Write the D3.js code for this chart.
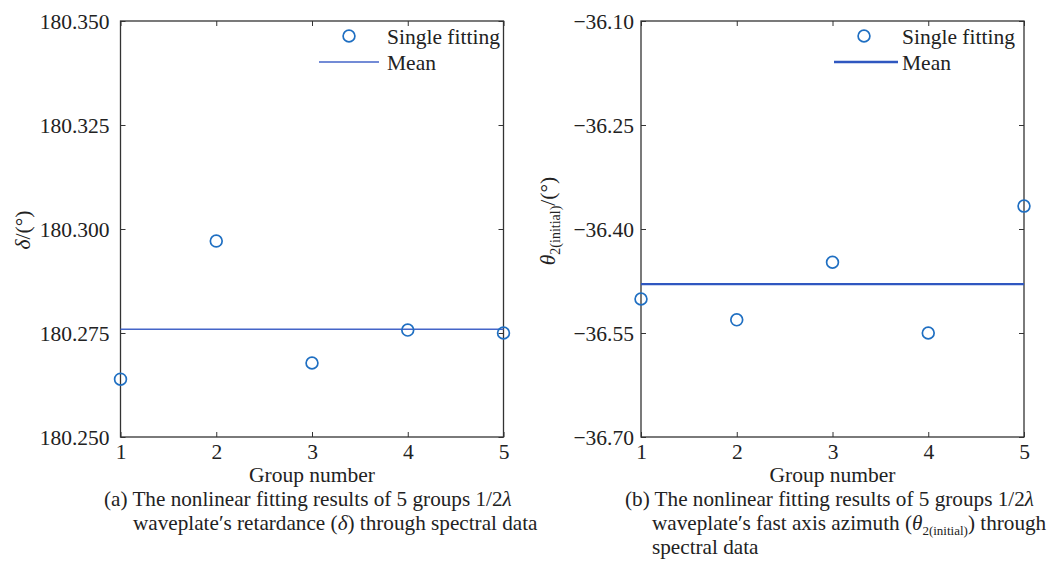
<!DOCTYPE html>
<html>
<head>
<meta charset="utf-8">
<script src="https://cdn.jsdelivr.net/npm/d3@7"></script>
<style>
  body { margin: 0; background: #fff; }
</style>
</head>
<body>
<svg id="chart" width="1054" height="563" font-family="Liberation Serif"></svg>
<script>
// data
var groups = [1, 2, 3, 4, 5]
var retardance = [180.2639, 180.2971, 180.2678, 180.2757, 180.2750]
var azimuth = [-36.501, -36.531, -36.448, -36.550, -36.367]
var retardance_ticks = [180.250, 180.275, 180.300, 180.325, 180.350]
var azimuth_ticks = [-36.70, -36.55, -36.40, -36.25, -36.10]
var legend_labels = ["Single fitting", "Mean"]
var x_label = "Group number"

var svg = d3.select("#chart")
var serif = "Liberation Serif"
var fs = 21.5
var text_color = "#222"
var point_color = "#1f6fc2"
var axis_color = "#333"

function draw_panel(cfg){
    var g = svg.append("g").attr("transform", "translate(" + cfg.left + "," + cfg.top + ")")
    var w = cfg.width, h = cfg.height

    var x = d3.scaleLinear().domain([1, 5]).range([0, w])
    var y = d3.scaleLinear().domain(d3.extent(cfg.ticks)).range([h, 0])

    // bottom + left axes with labels, inward ticks
    var bottom = g.append("g").attr("transform", "translate(0," + h + ")")
        .call(d3.axisBottom(x).tickValues(groups).tickFormat(d3.format("d"))
            .tickSizeInner(-5).tickSizeOuter(0).tickPadding(7))
    var left = g.append("g")
        .call(d3.axisLeft(y).tickValues(cfg.ticks).tickFormat(d3.format(cfg.fmt))
            .tickSizeInner(-5).tickSizeOuter(0).tickPadding(cfg.ypad))
    // top + right, ticks only
    var top = g.append("g")
        .call(d3.axisTop(x).tickValues(groups).tickFormat("").tickSizeInner(-5).tickSizeOuter(0))
    var right = g.append("g").attr("transform", "translate(" + w + ",0)")
        .call(d3.axisRight(y).tickValues(cfg.ticks).tickFormat("").tickSizeInner(-5).tickSizeOuter(0))

    ;[bottom, left, top, right].forEach(function(a){
        a.attr("font-family", serif)
        a.select(".domain").remove()
        a.selectAll("line").attr("stroke", axis_color).attr("stroke-width", 1)
        a.selectAll("text").attr("font-size", fs).attr("fill", text_color)
    })
    bottom.selectAll("text").attr("dy", "0.71em")
    left.selectAll("text").attr("dy", "0.33em")

    g.append("rect")
        .attr("width", w).attr("height", h)
        .attr("fill", "none").attr("stroke", axis_color).attr("stroke-width", 1.3)

    // mean line
    var m = d3.mean(cfg.values)
    g.append("line")
        .attr("x1", 0).attr("x2", w)
        .attr("y1", y(m)).attr("y2", y(m))
        .attr("stroke", cfg.mean_color).attr("stroke-width", cfg.mean_width)

    // single fitting circles
    g.selectAll("circle.pt").data(cfg.values).enter().append("circle")
        .attr("class", "pt")
        .attr("cx", function(d, i){ return x(groups[i]) })
        .attr("cy", function(d){ return y(d) })
        .attr("r", 5.9)
        .attr("fill", "none").attr("stroke", point_color).attr("stroke-width", 1.7)

    // legend
    var lg = g.append("g").attr("transform", "translate(" + cfg.legend_x + ",15)")
    lg.append("circle").attr("cx", -38).attr("cy", 0).attr("r", 5.9)
        .attr("fill", "none").attr("stroke", point_color).attr("stroke-width", 1.7)
    lg.append("line").attr("x1", -68).attr("x2", cfg.legend_line_end).attr("y1", 26).attr("y2", 26)
        .attr("stroke", cfg.mean_color).attr("stroke-width", cfg.mean_width)
    lg.selectAll("text.lab").data(legend_labels).enter().append("text")
        .attr("class", "lab")
        .attr("x", 0).attr("y", function(d, i){ return i * 26 })
        .attr("dy", "0.35em").attr("font-size", fs).attr("fill", text_color)
        .text(function(d){ return d })

    // x label
    g.append("text").attr("x", w / 2).attr("y", h + 45)
        .attr("text-anchor", "middle").attr("font-size", fs).attr("fill", text_color)
        .text(x_label)

    // y label
    var yl = g.append("text")
        .attr("transform", "translate(" + cfg.ylabel_x + "," + cfg.ylabel_y + ") rotate(-90)")
        .attr("text-anchor", "middle").attr("font-size", fs).attr("fill", text_color)
    cfg.ylabel(yl)

    // caption
    var cap = svg.append("g").attr("transform", "translate(" + cfg.caption_x + ",506)")
    cfg.caption.forEach(function(parts, i){
        var t = cap.append("text").attr("x", i == 0 ? 0 : cfg.indent).attr("y", i * 24)
            .attr("font-size", 21.2).attr("fill", text_color)
        parts.forEach(function(p){
            var s = t.append("tspan").text(p.t)
            if(p.it) s.attr("font-style", "italic")
            if(p.sub) s.attr("font-size", 13).attr("dy", 5)
            if(p.up) s.attr("dy", -5)
        })
    })
}

draw_panel({
    left: 120.5, top: 21, width: 383, height: 416,
    values: retardance, ticks: retardance_ticks, fmt: ".3f", ypad: 11,
    mean_width: 1.3, mean_color: "#4465c8", legend_x: 266.5, legend_line_end: -8,
    ylabel_x: -91, ylabel_y: 209,
    ylabel: function(t){
        t.append("tspan").attr("font-style", "italic").text("δ")
        t.append("tspan").text("/(°)")
    },
    caption_x: 104, indent: 29,
    caption: [
        [{t: "(a) The nonlinear fitting results of 5 groups 1/2"}, {t: "λ", it: true}],
        [{t: "waveplate′s retardance ("}, {t: "δ", it: true}, {t: ") through spectral data"}]
    ]
})

draw_panel({
    left: 641, top: 21, width: 383, height: 416,
    values: azimuth, ticks: azimuth_ticks, fmt: ".2f", ypad: 7,
    mean_width: 2.3, mean_color: "#2f57c0", legend_x: 261, legend_line_end: -4,
    ylabel_x: -86, ylabel_y: 200,
    ylabel: function(t){
        t.append("tspan").attr("font-style", "italic").text("θ")
        t.append("tspan").attr("font-size", 14).attr("dy", 5).text("2(initial)")
        t.append("tspan").attr("dy", -5).text("/(°)")
    },
    caption_x: 625, indent: 27,
    caption: [
        [{t: "(b) The nonlinear fitting results of 5 groups 1/2"}, {t: "λ", it: true}],
        [{t: "waveplate′s fast axis azimuth ("}, {t: "θ", it: true}, {t: "2(initial)", sub: true}, {t: ") through", up: true}],
        [{t: "spectral data"}]
    ]
})
</script>
</body>
</html>
